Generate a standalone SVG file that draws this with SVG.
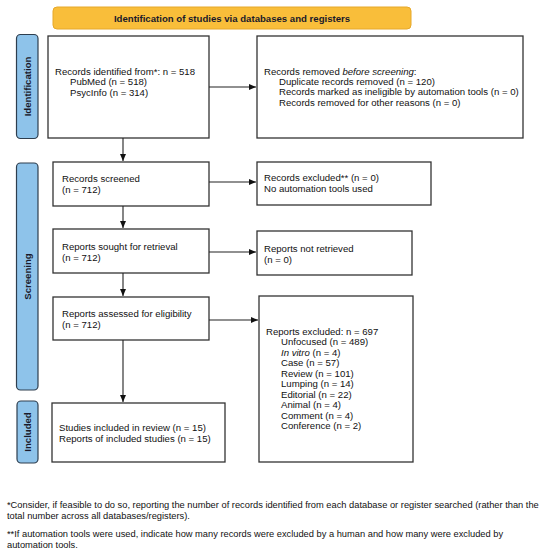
<svg xmlns="http://www.w3.org/2000/svg" width="550" height="556" viewBox="0 0 550 556">
<defs>
<style>
.box{fill:#fff;stroke:#333;stroke-width:1.3}
.side{fill:#8EC3EA;stroke:#2E3E4E;stroke-width:1.2}
.t{font-family:"Liberation Sans",Arial,sans-serif;font-size:9.6px;fill:#111}
.sl{font-family:"Liberation Sans",Arial,sans-serif;font-size:9.6px;font-weight:bold;fill:#1a1a2a}
.fn{font-family:"Liberation Sans",Arial,sans-serif;font-size:9.3px;fill:#111}
.ln{stroke:#222;stroke-width:1.1;fill:none}
</style>
<marker id="ah" markerWidth="8" markerHeight="8" refX="7" refY="4" orient="auto" markerUnits="userSpaceOnUse">
<path d="M0,1 L7,4 L0,7 Z" fill="#111"/>
</marker>
</defs>
<rect width="550" height="556" fill="#fff"/>

<g id="banner">
<rect x="53" y="7" width="358" height="22" rx="4" fill="#F9BE3A" stroke="#E6A82A" stroke-width="1"/>
<text x="232" y="21.5" text-anchor="middle" class="sl" fill="#111">Identification of studies via databases and registers</text>
</g>

<g id="side-identification">
<rect class="side" x="16.5" y="34.5" width="21.5" height="104" rx="4"/>
<text class="sl" transform="translate(30.5,86.5) rotate(-90)" text-anchor="middle">Identification</text>
</g>
<g id="side-screening">
<rect class="side" x="16.5" y="163" width="21.5" height="227" rx="4"/>
<text class="sl" transform="translate(30.5,276.5) rotate(-90)" text-anchor="middle">Screening</text>
</g>
<g id="side-included">
<rect class="side" x="17" y="401" width="21" height="62" rx="4"/>
<text class="sl" transform="translate(31,432) rotate(-90)" text-anchor="middle">Included</text>
</g>

<g id="n-identified">
<rect class="box" x="48" y="36" width="161" height="102"/>
<text class="t" x="55" y="74.5">Records identified from*: n = 518</text>
<text class="t" x="70" y="85">PubMed (n = 518)</text>
<text class="t" x="70" y="96">PsycInfo (n = 314)</text>
</g>
<g id="n-removed">
<rect class="box" x="257" y="36" width="266" height="102"/>
<text class="t" x="264" y="74.5">Records removed <tspan font-style="italic">before screening</tspan>:</text>
<text class="t" x="279" y="84.5">Duplicate records removed (n = 120)</text>
<text class="t" x="279" y="95">Records marked as ineligible by automation tools (n = 0)</text>
<text class="t" x="279" y="105.5">Records removed for other reasons (n = 0)</text>
</g>
<g id="n-screened">
<rect class="box" x="53" y="162" width="156" height="44"/>
<text class="t" x="62" y="181.5">Records screened</text>
<text class="t" x="62" y="192.5">(n = 712)</text>
</g>
<g id="n-excluded">
<rect class="box" x="257" y="162" width="174" height="43"/>
<text class="t" x="264" y="180.5">Records excluded** (n = 0)</text>
<text class="t" x="264" y="192">No automation tools used</text>
</g>
<g id="n-sought">
<rect class="box" x="53" y="229" width="156" height="44"/>
<text class="t" x="62" y="249.5">Reports sought for retrieval</text>
<text class="t" x="62" y="260.5">(n = 712)</text>
</g>
<g id="n-notretrieved">
<rect class="box" x="257" y="231" width="155" height="44"/>
<text class="t" x="264" y="251.5">Reports not retrieved</text>
<text class="t" x="264" y="262.5">(n = 0)</text>
</g>
<g id="n-assessed">
<rect class="box" x="53" y="297" width="156" height="43"/>
<text class="t" x="62" y="316.5">Reports assessed for eligibility</text>
<text class="t" x="62" y="327.5">(n = 712)</text>
</g>
<g id="n-reportsexcluded">
<rect class="box" x="259" y="296" width="154" height="166"/>
<text class="t" x="266" y="334.5">Reports excluded: n = 697</text>
<text class="t" x="281" y="345">Unfocused (n = 489)</text>
<text class="t" x="281" y="355.5"><tspan font-style="italic">In vitro</tspan> (n = 4)</text>
<text class="t" x="281" y="366">Case (n = 57)</text>
<text class="t" x="281" y="376.5">Review (n = 101)</text>
<text class="t" x="281" y="387">Lumping (n = 14)</text>
<text class="t" x="281" y="397.5">Editorial (n = 22)</text>
<text class="t" x="281" y="408">Animal (n = 4)</text>
<text class="t" x="281" y="418.5">Comment (n = 4)</text>
<text class="t" x="281" y="429">Conference (n = 2)</text>
</g>
<g id="n-included">
<rect class="box" x="52" y="403" width="173" height="59"/>
<text class="t" x="59" y="430.5">Studies included in review (n = 15)</text>
<text class="t" x="59" y="441.5">Reports of included studies (n = 15)</text>
</g>

<g id="connectors">
<line class="ln" x1="209" y1="87" x2="256" y2="87" marker-end="url(#ah)"/>
<line class="ln" x1="123" y1="138" x2="123" y2="161" marker-end="url(#ah)"/>
<line class="ln" x1="209" y1="182" x2="256" y2="182" marker-end="url(#ah)"/>
<line class="ln" x1="123" y1="206" x2="123" y2="228" marker-end="url(#ah)"/>
<line class="ln" x1="209" y1="252" x2="256" y2="252" marker-end="url(#ah)"/>
<line class="ln" x1="123" y1="273" x2="123" y2="296" marker-end="url(#ah)"/>
<line class="ln" x1="209" y1="320" x2="258" y2="320" marker-end="url(#ah)"/>
<line class="ln" x1="123" y1="340" x2="123" y2="402" marker-end="url(#ah)"/>
</g>

<g id="footnotes">
<text class="fn" x="7" y="507.5">*Consider, if feasible to do so, reporting the number of records identified from each database or register searched (rather than the</text>
<text class="fn" x="7" y="518.5">total number across all databases/registers).</text>
<text class="fn" x="7" y="536.5">**If automation tools were used, indicate how many records were excluded by a human and how many were excluded by</text>
<text class="fn" x="7" y="547.5">automation tools.</text>
</g>
</svg>
